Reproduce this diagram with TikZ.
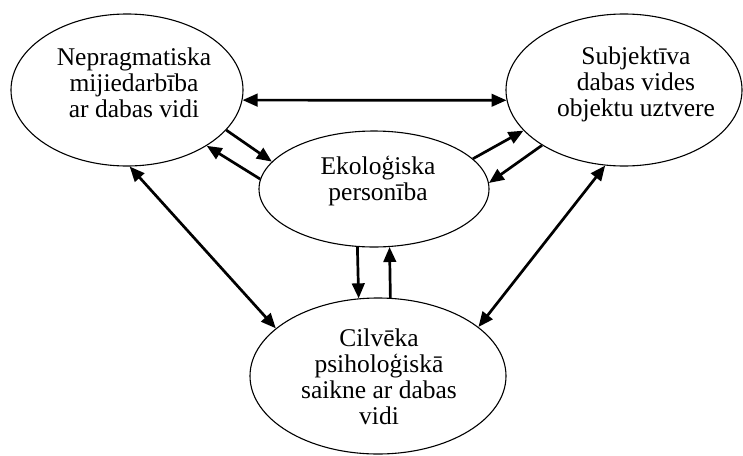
\documentclass[tikz,border=0pt]{standalone}
\usepackage{fontspec}
\setmainfont{Liberation Serif}
\usetikzlibrary{shapes.geometric,arrows.meta,calc}
\begin{document}
\begin{tikzpicture}[x=1pt,y=-1pt,
 oval/.style={ellipse,draw,line width=1.1pt,inner sep=0pt},
 txt/.style={align=center,inner sep=0pt,font=\fontsize{25.5}{26}\selectfont},
 tip/.tip={Triangle[length=15pt,width=12.5pt]},
 arr/.style={-tip,line width=2.7pt},
 darr/.style={tip-tip,line width=2.7pt}]
\useasboundingbox (0,0) rectangle (743,455);
\node[oval,minimum width=232pt,minimum height=152pt] (tl) at (127,90) {};
\node[oval,minimum width=236pt,minimum height=152pt] (tr) at (624,90) {};
\node[oval,minimum width=230pt,minimum height=116pt] (mid) at (374,189) {};
\node[oval,minimum width=256pt,minimum height=156pt] (bot) at (378,376) {};
\node[txt] (tlt) at ($(tl)+(7,-7)$) {Nepragmatiska\\mijiedarbība\\ar dabas vidi};
\node[txt] (trt) at ($(tr)+(12,-6)$) {Subjektīva\\dabas vides\\objektu uztvere};
\node[txt] (midt) at ($(mid)+(4,-8)$) {Ekoloģiska\\personība};
\node[txt] (bott) at ($(bot)+(1,1)$) {Cilvēka\\psiholoģiskā\\saikne ar dabas\\vidi};
\draw[darr] (tl.-5) -- (tr.185);
\draw[arr] (tl.-22.7) -- (mid.165.3);
\draw[arr] (mid.175.5) -- (tl.-35.4);
\draw[arr] (mid.17.4) -- (tr.202.9);
\draw[arr] (tr.214.6) -- (mid.3.5);
\draw[darr] (tl.-88) -- (bot.155);
\draw[darr] (tr.256) -- (bot.26.8);
\draw[arr] (mid.254.4) -- (bot.104.6);
\draw[arr] (bot.81.2) -- (mid.285.6);
\end{tikzpicture}
\end{document}
